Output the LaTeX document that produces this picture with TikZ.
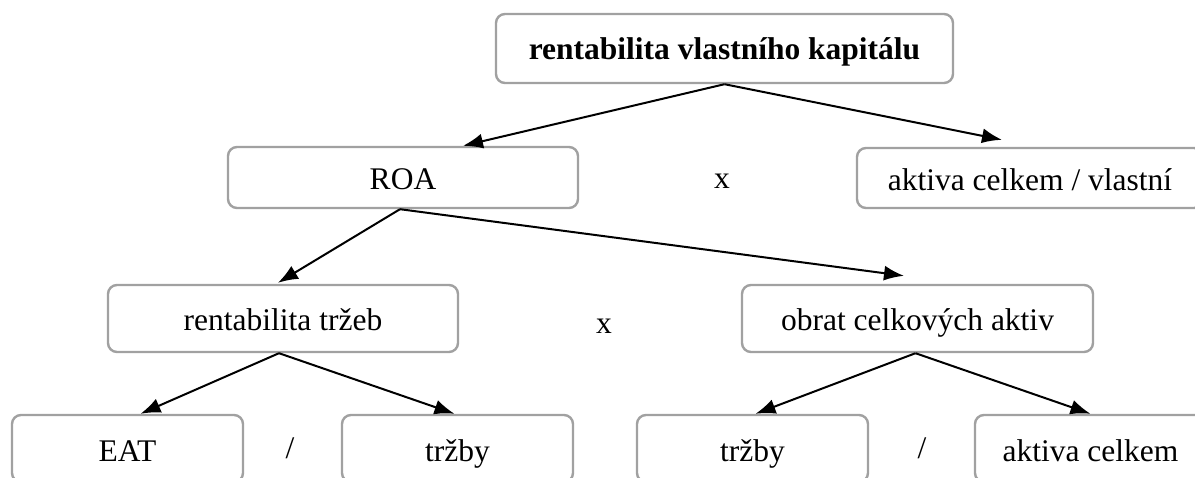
\documentclass[tikz,border=0pt]{standalone}
\usepackage{fontspec}
\setmainfont{Liberation Serif}
\usetikzlibrary{arrows.meta,calc}
\tikzset{
  box/.style={draw=black!37, line width=2.4pt, rounded corners=9pt, fill=white,
    inner sep=0pt, minimum height=67pt, text height=27pt, text depth=2pt,
    font=\fontsize{31.5}{38}\selectfont},
  op/.style={inner sep=0pt, font=\fontsize{31.5}{38}\selectfont},
  arr/.style={line width=2pt, -{Latex[length=20pt,width=15pt]}}
}
\begin{document}
\begin{tikzpicture}[x=1pt,y=-1pt]
\clip (0,0) rectangle (1195,478);
\fill[white] (0,0) rectangle (1195,478);
% row 1
\node[box, minimum width=457pt, minimum height=69pt, text height=26pt, text depth=3pt,
  font=\fontsize{31.5}{38}\selectfont\bfseries] (top) at (724.5,48.5) {rentabilita vlastního kapitálu};
% row 2
\node[box, minimum width=350pt, minimum height=61pt] (roa) at (403,177.5) {ROA};
\node[box, minimum width=346pt, minimum height=60pt] (akt) at (1030,178) {aktiva celkem / vlastní};
\node[op] (x1) at (722,181) {x};
% row 3
\node[box, minimum width=350pt] (rt) at (283,318.5) {rentabilita tržeb};
\node[box, minimum width=351pt] (ob) at (917.5,318.5) {obrat celkových aktiv};
\node[op] (x2) at (604,326) {x};
% row 4
\node[box, minimum width=231pt] (eat) at (127.5,448.5) {EAT};
\node[box, minimum width=231pt] (trz) at (457.5,448.5) {tržby};
\node[box, minimum width=231pt] (trz2) at (752.5,448.5) {tržby};
\node[box, minimum width=231pt] (ak2) at (1090.5,448.5) {aktiva celkem};
\node[op] (s1) at (290,448) {/};
\node[op] (s2) at (922,448) {/};
% connectors
\draw[arr] (top.south) -- ($(roa.north)+(60,0)$);
\draw[arr] (top.south) -- ($(akt.north)+(-28,-7)$);
\draw[arr] ($(roa.south)+(-3,0)$) -- ($(rt.north)+(-5,-1)$);
\draw[arr] ($(roa.south)+(-3,0)$) -- ($(ob.north)+(-13.5,-8)$);
\draw[arr] ($(rt.south)+(-4,0)$) -- ($(eat.north)+(13,0)$);
\draw[arr] ($(rt.south)+(-4,0)$) -- ($(trz.north)+(-3,0)$);
\draw[arr] ($(ob.south)+(-2,0)$) -- ($(trz2.north)+(3,0)$);
\draw[arr] ($(ob.south)+(-2,0)$) -- (ak2.north);
\end{tikzpicture}
\end{document}
